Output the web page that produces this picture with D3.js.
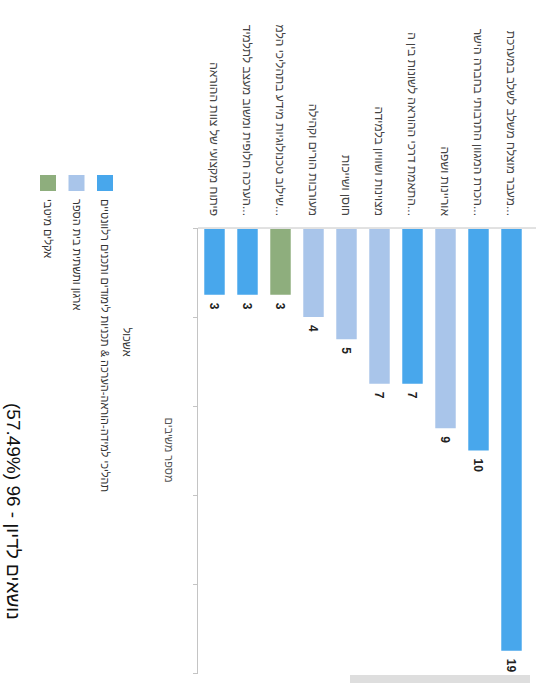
<!DOCTYPE html>
<html>
<head>
<meta charset="utf-8">
<script src="https://cdn.jsdelivr.net/npm/d3@7/dist/d3.min.js"></script>
<style>
  html, body { margin: 0; padding: 0; background: #fff; }
  svg { display: block; font-family: "Liberation Sans", Arial, sans-serif; }
</style>
</head>
<body>
<div id="chart"></div>
<script>
// data (top to bottom as printed)
var categories = [
  "מעבר מוצלח משלב לשלב במערכת החינוך",
  "הכרת המגוון התרבותי בחברה הישראלית",
  "אוריינות ושפה",
  "התאמת דרכי ההוראה לשונות בין התלמידים",
  "מצוינות ושוויון בלמידה",
  "חוסן ושייכות",
  "מעורבות הורים וקהילה",
  "שילוב טכנולוגיות מידע בתהליכי הלמידה",
  "הערכה חלופית ומשוב מעצב לתלמידים",
  "פיתוח מקצועי של צוות ההוראה"
];
var values = [19, 10, 9, 7, 7, 5, 4, 3, 3, 3];
var clusterOf = [0, 0, 1, 0, 1, 1, 1, 2, 0, 0];
var clusterNames = [
  "תהליכי למידה-הוראה-הערכה & תכניות לימודים ותכנים רלוונטיים",
  "ארגון ותשתית בית הספר",
  "אקלים מיטבי"
];
var clusterColors = ["#48a7ec", "#a9c5ea", "#8eae7d"];
var xTicks = [0, 4, 8, 12, 16, 20];
var titleText = "נושאים לדיון - 96 (57.49%)";
var axisTitle = "מספר משיבים";
var legendTitle = "אשכול";

// page is a scan turned a quarter turn, so draw the chart landscape and rotate it
var pageW = 536, pageH = 683;

var svg = d3.select("#chart").append("svg")
  .attr("width", pageW)
  .attr("height", pageH);

var g = svg.append("g")
  .attr("transform", "translate(" + pageW + ",0) rotate(90)");

var x = d3.scaleLinear().domain([0, 20]).range([228, 673]);
var y = d3.scaleBand().domain(categories).range([8, 338])
  .paddingInner(0.38).paddingOuter(0.19);

// x axis, ticks only
var xAxis = g.append("g")
  .attr("transform", "translate(0," + y.range()[1] + ")")
  .call(d3.axisBottom(x).tickValues(xTicks).tickSize(5).tickSizeOuter(0).tickFormat(""));
xAxis.selectAll("path, line").attr("stroke", "#c4c4c4");

// category baseline
g.append("line")
  .attr("x1", x(0)).attr("x2", x(0))
  .attr("y1", 0).attr("y2", y.range()[1])
  .attr("stroke", "#c4c4c4");

// bars
g.selectAll("rect.bar")
  .data(values)
  .enter().append("rect")
  .attr("class", "bar")
  .attr("x", x(0) + 1)
  .attr("y", function(d, i) { return y(categories[i]); })
  .attr("width", function(d) { return x(d) - x(0) - 1; })
  .attr("height", y.bandwidth())
  .attr("fill", function(d, i) { return clusterColors[clusterOf[i]]; });

// value labels
g.selectAll("text.val")
  .data(values)
  .enter().append("text")
  .attr("class", "val")
  .attr("x", function(d) { return x(d) + 8; })
  .attr("y", function(d, i) { return y(categories[i]) + y.bandwidth() / 2; })
  .attr("dy", "0.35em")
  .attr("font-size", 12)
  .attr("font-weight", "bold")
  .attr("fill", "#222")
  .text(function(d) { return d; });

// category labels, cut to fit with "..."
var maxLabel = 192;
g.selectAll("text.cat")
  .data(categories)
  .enter().append("text")
  .attr("class", "cat")
  .attr("x", x(0) - 12)
  .attr("y", function(d) { return y(d) + y.bandwidth() / 2; })
  .attr("dy", "0.35em")
  .attr("text-anchor", "end")
  .attr("font-size", 12)
  .attr("fill", "#444")
  .text(function(d) { return d; })
  .each(function(d) {
    var t = d3.select(this), s = d;
    if (this.getComputedTextLength() <= maxLabel) return;
    while (s.length > 1) {
      s = s.slice(0, -1);
      t.text(s.trim() + "...");
      if (this.getComputedTextLength() <= maxLabel) break;
    }
  });

// axis title
g.append("text")
  .attr("x", 450)
  .attr("y", 371)
  .attr("text-anchor", "middle")
  .attr("font-size", 11)
  .attr("fill", "#555")
  .text(axisTitle);

// legend
g.append("text")
  .attr("x", 342)
  .attr("y", 413)
  .attr("text-anchor", "middle")
  .attr("font-size", 11)
  .attr("fill", "#333")
  .text(legendTitle);

var legend = g.selectAll("g.leg")
  .data(clusterNames)
  .enter().append("g")
  .attr("class", "leg")
  .attr("transform", function(d, i) { return "translate(175," + (423 + i * 28.5) + ")"; });

legend.append("rect")
  .attr("width", 16).attr("height", 16)
  .attr("fill", function(d, i) { return clusterColors[i]; });

legend.append("text")
  .attr("x", 24)
  .attr("y", 8)
  .attr("dy", "0.35em")
  .attr("font-size", 11)
  .attr("fill", "#333")
  .text(function(d) { return d; });

// title, set right to left
g.append("text")
  .attr("x", 403)
  .attr("y", 529)
  .attr("font-size", 19)
  .attr("fill", "#111")
  .text("\u202B" + titleText + "\u202C");

// grey strip cut off at the edge of the scan
g.append("rect")
  .attr("x", 675).attr("y", 6)
  .attr("width", 10).attr("height", 180)
  .attr("fill", "#dedede");
</script>
</body>
</html>
